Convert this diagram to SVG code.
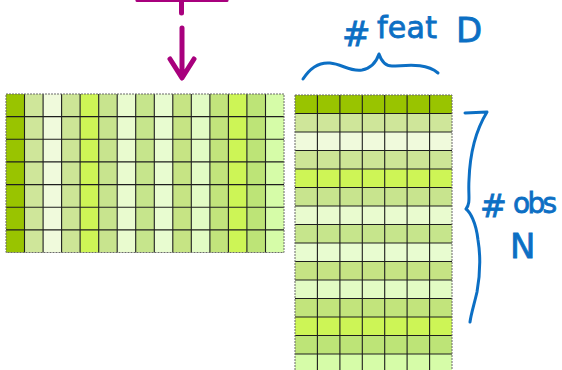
<svg xmlns="http://www.w3.org/2000/svg" width="562" height="370" viewBox="0 0 562 370">
<style>
.g{stroke:#1e1e1e;stroke-width:1.1;fill:none}
.b{stroke:#6b6b6b;stroke-width:1;stroke-dasharray:2 1;fill:none}
.mg{stroke:#a8007d;fill:none;stroke-linecap:round;stroke-linejoin:round}
.ink{stroke:#0c6fc4;stroke-width:3;fill:none;stroke-linecap:round;stroke-linejoin:round}
.hw{fill:#0c6fc4;stroke:#0c6fc4;stroke-width:0.8;font-family:"DejaVu Sans","Liberation Sans",sans-serif}
.c1{fill:#99c400}.c2{fill:#cfe69a}.c3{fill:#f0fadc}.c4{fill:#cde596}.c5{fill:#cef556}.c6{fill:#c8e48e}.c7{fill:#e9fbcf}.c8{fill:#c6e58c}.c9{fill:#e8fcd0}.c10{fill:#c6e484}.c11{fill:#e2fbc4}.c12{fill:#c2e47c}.c13{fill:#cdf556}.c14{fill:#bde477}.c15{fill:#d6fca8}
</style>
<rect width="562" height="370" fill="#ffffff"/>
<g id="matrix-left">
<rect class="c1" x="6" y="94" width="18.5" height="158.5"/>
<rect class="c2" x="24.5" y="94" width="18.6" height="158.5"/>
<rect class="c3" x="43.1" y="94" width="18.5" height="158.5"/>
<rect class="c4" x="61.6" y="94" width="18.5" height="158.5"/>
<rect class="c5" x="80.1" y="94" width="18.6" height="158.5"/>
<rect class="c6" x="98.7" y="94" width="18.5" height="158.5"/>
<rect class="c7" x="117.2" y="94" width="18.5" height="158.5"/>
<rect class="c8" x="135.7" y="94" width="18.6" height="158.5"/>
<rect class="c9" x="154.3" y="94" width="18.5" height="158.5"/>
<rect class="c10" x="172.8" y="94" width="18.5" height="158.5"/>
<rect class="c11" x="191.3" y="94" width="18.6" height="158.5"/>
<rect class="c12" x="209.9" y="94" width="18.5" height="158.5"/>
<rect class="c13" x="228.4" y="94" width="18.5" height="158.5"/>
<rect class="c14" x="246.9" y="94" width="18.6" height="158.5"/>
<rect class="c15" x="265.5" y="94" width="18.5" height="158.5"/>
<path class="g" d="M24.5,94V252.5M43.1,94V252.5M61.6,94V252.5M80.1,94V252.5M98.7,94V252.5M117.2,94V252.5M135.7,94V252.5M154.3,94V252.5M172.8,94V252.5M191.3,94V252.5M209.9,94V252.5M228.4,94V252.5M246.9,94V252.5M265.5,94V252.5M6,116.6H284M6,139.3H284M6,161.9H284M6,184.6H284M6,207.2H284M6,229.9H284"/>
<rect class="b" x="6" y="94" width="278" height="158.5"/>
</g>
<g id="matrix-right">
<rect class="c1" x="295" y="95" width="157" height="18.5"/>
<rect class="c2" x="295" y="113.5" width="157" height="18.5"/>
<rect class="c3" x="295" y="132" width="157" height="18.5"/>
<rect class="c4" x="295" y="150.5" width="157" height="18.5"/>
<rect class="c5" x="295" y="169" width="157" height="18.5"/>
<rect class="c6" x="295" y="187.5" width="157" height="18.5"/>
<rect class="c7" x="295" y="206" width="157" height="18.5"/>
<rect class="c8" x="295" y="224.5" width="157" height="18.5"/>
<rect class="c9" x="295" y="243" width="157" height="18.5"/>
<rect class="c10" x="295" y="261.5" width="157" height="18.5"/>
<rect class="c11" x="295" y="280" width="157" height="18.5"/>
<rect class="c12" x="295" y="298.5" width="157" height="18.5"/>
<rect class="c13" x="295" y="317" width="157" height="18.5"/>
<rect class="c14" x="295" y="335.5" width="157" height="18.5"/>
<rect class="c15" x="295" y="354" width="157" height="18.5"/>
<path class="g" d="M317.4,95V372.5M339.9,95V372.5M362.3,95V372.5M384.7,95V372.5M407.1,95V372.5M429.6,95V372.5M295,113.5H452M295,132H452M295,150.5H452M295,169H452M295,187.5H452M295,206H452M295,224.5H452M295,243H452M295,261.5H452M295,280H452M295,298.5H452M295,317H452M295,335.5H452M295,354H452"/>
<rect class="b" x="295" y="95" width="157" height="277.5"/>
</g>
<g id="connectors">
<path class="mg" stroke-width="3" d="M137,0.5H227"/>
<path class="mg" stroke-width="5" d="M181.5,0V13"/>
<path class="mg" stroke-width="5" d="M182,28V77M170,59L182,78L194,59"/>
</g>
<g id="label-feat">
<path class="ink" d="M303,79C310,68 318,62 330,63C342,64 350,72 362,70C372,68 377,60 379,54C381,60 384,66 392,66C405,66 425,62 438,73"/>
<text class="hw" x="342" y="46" font-size="34">#</text>
<text class="hw" x="377" y="38" font-size="30" textLength="60" lengthAdjust="spacing">feat</text>
<text class="hw" x="456" y="42" font-size="34">D</text>
</g>
<g id="label-obs">
<path class="ink" d="M465,113L487,112C476,130 470,150 469,180C468,195 471,203 466,209C470,212 476,222 478,240C481,258 480,275 477,292C474,305 471,314 470,322"/>
<text class="hw" x="480" y="217" font-size="32">#</text>
<text class="hw" x="513" y="213" font-size="28" textLength="44" lengthAdjust="spacing">obs</text>
<text class="hw" x="510" y="258" font-size="34">N</text>
</g>
</svg>
